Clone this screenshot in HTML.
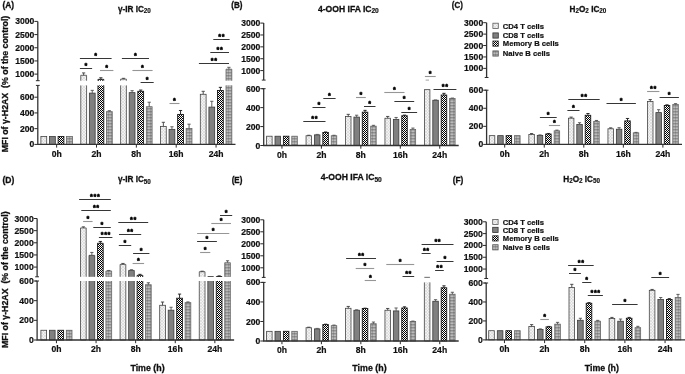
<!DOCTYPE html>
<html><head><meta charset="utf-8"><title>Figure</title>
<style>html,body{margin:0;padding:0;background:#fff}svg{display:block}text{font-family:'Liberation Sans', Arial, sans-serif;font-weight:bold;fill:#111;stroke:#111;stroke-width:0.2px}.c{stroke-width:0.3px}.s{letter-spacing:0.6px;stroke-width:0.5px;fill:#000;stroke:#000}.t{stroke-width:0.18px}</style></head><body>
<svg width="685" height="374" viewBox="0 0 685 374">
<defs>
<pattern id="p1" width="3" height="3" patternUnits="userSpaceOnUse"><rect width="3" height="3" fill="#f2f2f2"/><path d="M0 0L3 3M3 0L0 3" stroke="#cfcfcf" stroke-width="0.5"/></pattern>
<pattern id="p3" width="2" height="2" patternUnits="userSpaceOnUse"><rect width="2" height="2" fill="#fff"/><rect width="1" height="1" fill="#000"/><rect x="1" y="1" width="1" height="1" fill="#000"/></pattern>
<pattern id="p4" width="3" height="3" patternUnits="userSpaceOnUse"><rect width="3" height="3" fill="#fff"/><path d="M0.5 0V3M2 0V3" stroke="#808080" stroke-width="0.55"/><path d="M0 0.4H3M0 1.9H3" stroke="#4a4a4a" stroke-width="0.6"/></pattern>
<filter id="bl" x="0" y="0" width="685" height="374" filterUnits="userSpaceOnUse"><feGaussianBlur stdDeviation="0.42"/></filter>
<filter id="bl2" x="0" y="0" width="685" height="374" filterUnits="userSpaceOnUse"><feGaussianBlur stdDeviation="0.22"/></filter>
</defs>
<rect width="685" height="374" fill="#fff"/>
<g filter="url(#bl2)"><rect x="40.90" y="136.53" width="5.8" height="7.87" fill="url(#p1)" stroke="#444" stroke-width="0.8"/>
<rect x="49.50" y="136.53" width="5.8" height="7.87" fill="#808080" stroke="#3a3a3a" stroke-width="0.8"/>
<rect x="58.10" y="136.53" width="5.8" height="7.87" fill="url(#p3)" stroke="#1a1a1a" stroke-width="0.9"/>
<rect x="66.60" y="136.53" width="5.8" height="7.87" fill="url(#p4)" stroke="#666" stroke-width="0.8"/>
<rect x="80.75" y="85.40" width="5.8" height="59.00" fill="url(#p1)"/>
<path d="M80.75 85.40V144.40H86.55V85.40" fill="none" stroke="#444" stroke-width="0.8"/>
<rect x="80.75" y="75.30" width="5.8" height="5.40" fill="url(#p1)"/>
<path d="M80.75 80.70V75.30H86.55V80.70" fill="none" stroke="#444" stroke-width="0.8"/>
<path d="M83.65 75.30V72.93M82.05 72.93H85.25" stroke="#444" stroke-width="0.95" fill="none"/>
<rect x="89.35" y="93.11" width="5.8" height="51.29" fill="#808080" stroke="#3a3a3a" stroke-width="0.8"/>
<path d="M92.25 93.11V90.36M90.65 90.36H93.85" stroke="#5a5a5a" stroke-width="0.95" fill="none"/>
<rect x="97.95" y="85.40" width="5.8" height="59.00" fill="url(#p3)"/>
<path d="M97.95 85.40V144.40H103.75V85.40" fill="none" stroke="#1a1a1a" stroke-width="0.9"/>
<rect x="97.95" y="79.38" width="5.8" height="1.32" fill="url(#p3)"/>
<path d="M97.95 80.70V79.38H103.75V80.70" fill="none" stroke="#1a1a1a" stroke-width="0.9"/>
<path d="M100.85 79.38V77.80M99.25 77.80H102.45" stroke="#222" stroke-width="0.95" fill="none"/>
<rect x="106.45" y="111.67" width="5.8" height="32.73" fill="url(#p4)" stroke="#666" stroke-width="0.8"/>
<path d="M109.35 111.67V110.73M107.75 110.73H110.95" stroke="#555" stroke-width="0.95" fill="none"/>
<rect x="120.60" y="85.40" width="5.8" height="59.00" fill="url(#p1)"/>
<path d="M120.60 85.40V144.40H126.40V85.40" fill="none" stroke="#444" stroke-width="0.8"/>
<rect x="120.60" y="79.12" width="5.8" height="1.58" fill="url(#p1)"/>
<path d="M120.60 80.70V79.12H126.40V80.70" fill="none" stroke="#444" stroke-width="0.8"/>
<path d="M123.50 79.12V78.33M121.90 78.33H125.10" stroke="#444" stroke-width="0.95" fill="none"/>
<rect x="129.20" y="92.64" width="5.8" height="51.76" fill="#808080" stroke="#3a3a3a" stroke-width="0.8"/>
<path d="M132.10 92.64V90.67M130.50 90.67H133.70" stroke="#5a5a5a" stroke-width="0.95" fill="none"/>
<rect x="137.80" y="91.30" width="5.8" height="53.10" fill="url(#p3)" stroke="#1a1a1a" stroke-width="0.9"/>
<path d="M140.70 91.30V90.04M139.10 90.04H142.30" stroke="#222" stroke-width="0.95" fill="none"/>
<rect x="146.30" y="106.72" width="5.8" height="37.68" fill="url(#p4)" stroke="#666" stroke-width="0.8"/>
<path d="M149.20 106.72V102.23M147.60 102.23H150.80" stroke="#555" stroke-width="0.95" fill="none"/>
<rect x="160.45" y="126.39" width="5.8" height="18.01" fill="url(#p1)" stroke="#444" stroke-width="0.8"/>
<path d="M163.35 126.39V122.29M161.75 122.29H164.95" stroke="#444" stroke-width="0.95" fill="none"/>
<rect x="169.05" y="129.37" width="5.8" height="15.03" fill="#808080" stroke="#3a3a3a" stroke-width="0.8"/>
<path d="M171.95 129.37V126.78M170.35 126.78H173.55" stroke="#5a5a5a" stroke-width="0.95" fill="none"/>
<rect x="177.65" y="114.43" width="5.8" height="29.97" fill="url(#p3)" stroke="#1a1a1a" stroke-width="0.9"/>
<path d="M180.55 114.43V110.49M178.95 110.49H182.15" stroke="#222" stroke-width="0.95" fill="none"/>
<rect x="186.15" y="128.51" width="5.8" height="15.89" fill="url(#p4)" stroke="#666" stroke-width="0.8"/>
<path d="M189.05 128.51V124.18M187.45 124.18H190.65" stroke="#555" stroke-width="0.95" fill="none"/>
<rect x="200.30" y="94.29" width="5.8" height="50.11" fill="url(#p1)" stroke="#444" stroke-width="0.8"/>
<path d="M203.20 94.29V91.30M201.60 91.30H204.80" stroke="#444" stroke-width="0.95" fill="none"/>
<rect x="208.90" y="107.11" width="5.8" height="37.29" fill="#808080" stroke="#3a3a3a" stroke-width="0.8"/>
<path d="M211.80 107.11V101.29M210.20 101.29H213.40" stroke="#5a5a5a" stroke-width="0.95" fill="none"/>
<rect x="217.50" y="90.51" width="5.8" height="53.89" fill="url(#p3)" stroke="#1a1a1a" stroke-width="0.9"/>
<path d="M220.40 90.51V87.37M218.80 87.37H222.00" stroke="#222" stroke-width="0.95" fill="none"/>
<rect x="226.00" y="85.40" width="5.8" height="59.00" fill="url(#p4)"/>
<path d="M226.00 85.40V144.40H231.80V85.40" fill="none" stroke="#666" stroke-width="0.8"/>
<rect x="226.00" y="69.18" width="5.8" height="11.52" fill="url(#p4)"/>
<path d="M226.00 80.70V69.18H231.80V80.70" fill="none" stroke="#666" stroke-width="0.8"/>
<path d="M228.90 69.18V67.34M227.30 67.34H230.50" stroke="#555" stroke-width="0.95" fill="none"/>
<rect x="266.60" y="136.22" width="5.5" height="9.28" fill="url(#p1)" stroke="#444" stroke-width="0.8"/>
<rect x="275.00" y="136.22" width="5.5" height="9.28" fill="#808080" stroke="#3a3a3a" stroke-width="0.8"/>
<rect x="283.40" y="136.22" width="5.5" height="9.28" fill="url(#p3)" stroke="#1a1a1a" stroke-width="0.9"/>
<rect x="291.80" y="136.22" width="5.5" height="9.28" fill="url(#p4)" stroke="#666" stroke-width="0.8"/>
<rect x="306.05" y="135.75" width="5.5" height="9.75" fill="url(#p1)" stroke="#444" stroke-width="0.8"/>
<path d="M308.80 135.75V135.28M307.20 135.28H310.40" stroke="#444" stroke-width="0.95" fill="none"/>
<rect x="314.45" y="134.90" width="5.5" height="10.60" fill="#808080" stroke="#3a3a3a" stroke-width="0.8"/>
<path d="M317.20 134.90V134.42M315.60 134.42H318.80" stroke="#5a5a5a" stroke-width="0.95" fill="none"/>
<rect x="322.85" y="132.44" width="5.5" height="13.06" fill="url(#p3)" stroke="#1a1a1a" stroke-width="0.9"/>
<path d="M325.60 132.44V131.96M324.00 131.96H327.20" stroke="#222" stroke-width="0.95" fill="none"/>
<rect x="331.25" y="135.75" width="5.5" height="9.75" fill="url(#p4)" stroke="#666" stroke-width="0.8"/>
<path d="M334.00 135.75V135.28M332.40 135.28H335.60" stroke="#555" stroke-width="0.95" fill="none"/>
<rect x="345.50" y="116.53" width="5.5" height="28.97" fill="url(#p1)" stroke="#444" stroke-width="0.8"/>
<path d="M348.25 116.53V114.35M346.65 114.35H349.85" stroke="#444" stroke-width="0.95" fill="none"/>
<rect x="353.90" y="117.10" width="5.5" height="28.40" fill="#808080" stroke="#3a3a3a" stroke-width="0.8"/>
<path d="M356.65 117.10V115.21M355.05 115.21H358.25" stroke="#5a5a5a" stroke-width="0.95" fill="none"/>
<rect x="362.30" y="112.18" width="5.5" height="33.32" fill="url(#p3)" stroke="#1a1a1a" stroke-width="0.9"/>
<path d="M365.05 112.18V110.38M363.45 110.38H366.65" stroke="#222" stroke-width="0.95" fill="none"/>
<rect x="370.70" y="126.19" width="5.5" height="19.31" fill="url(#p4)" stroke="#666" stroke-width="0.8"/>
<path d="M373.45 126.19V125.34M371.85 125.34H375.05" stroke="#555" stroke-width="0.95" fill="none"/>
<rect x="384.95" y="118.24" width="5.5" height="27.26" fill="url(#p1)" stroke="#444" stroke-width="0.8"/>
<path d="M387.70 118.24V116.44M386.10 116.44H389.30" stroke="#444" stroke-width="0.95" fill="none"/>
<rect x="393.35" y="119.37" width="5.5" height="26.13" fill="#808080" stroke="#3a3a3a" stroke-width="0.8"/>
<path d="M396.10 119.37V117.48M394.50 117.48H397.70" stroke="#5a5a5a" stroke-width="0.95" fill="none"/>
<rect x="401.75" y="115.77" width="5.5" height="29.73" fill="url(#p3)" stroke="#1a1a1a" stroke-width="0.9"/>
<path d="M404.50 115.77V115.11M402.90 115.11H406.10" stroke="#222" stroke-width="0.95" fill="none"/>
<rect x="410.15" y="129.50" width="5.5" height="16.00" fill="url(#p4)" stroke="#666" stroke-width="0.8"/>
<path d="M412.90 129.50V128.08M411.30 128.08H414.50" stroke="#555" stroke-width="0.95" fill="none"/>
<rect x="424.40" y="89.65" width="5.5" height="55.85" fill="url(#p1)" stroke="#444" stroke-width="0.8"/>
<rect x="432.80" y="100.25" width="5.5" height="45.25" fill="#808080" stroke="#3a3a3a" stroke-width="0.8"/>
<path d="M435.55 100.25V99.97M433.95 99.97H437.15" stroke="#5a5a5a" stroke-width="0.95" fill="none"/>
<rect x="441.20" y="95.04" width="5.5" height="50.46" fill="url(#p3)" stroke="#1a1a1a" stroke-width="0.9"/>
<path d="M443.95 95.04V93.34M442.35 93.34H445.55" stroke="#222" stroke-width="0.95" fill="none"/>
<rect x="449.60" y="98.45" width="5.5" height="47.05" fill="url(#p4)" stroke="#666" stroke-width="0.8"/>
<path d="M452.35 98.45V98.07M450.75 98.07H453.95" stroke="#555" stroke-width="0.95" fill="none"/>
<rect x="489.30" y="135.64" width="5.5" height="8.76" fill="url(#p1)" stroke="#444" stroke-width="0.8"/>
<rect x="497.70" y="135.64" width="5.5" height="8.76" fill="#808080" stroke="#3a3a3a" stroke-width="0.8"/>
<rect x="506.10" y="135.64" width="5.5" height="8.76" fill="url(#p3)" stroke="#1a1a1a" stroke-width="0.9"/>
<rect x="514.60" y="135.64" width="5.5" height="8.76" fill="url(#p4)" stroke="#666" stroke-width="0.8"/>
<rect x="528.85" y="134.46" width="5.5" height="9.94" fill="url(#p1)" stroke="#444" stroke-width="0.8"/>
<path d="M531.60 134.46V133.56M530.00 133.56H533.20" stroke="#444" stroke-width="0.95" fill="none"/>
<rect x="537.25" y="135.37" width="5.5" height="9.03" fill="#808080" stroke="#3a3a3a" stroke-width="0.8"/>
<path d="M540.00 135.37V134.92M538.40 134.92H541.60" stroke="#5a5a5a" stroke-width="0.95" fill="none"/>
<rect x="545.65" y="134.01" width="5.5" height="10.39" fill="url(#p3)" stroke="#1a1a1a" stroke-width="0.9"/>
<path d="M548.40 134.01V133.47M546.80 133.47H550.00" stroke="#222" stroke-width="0.95" fill="none"/>
<rect x="554.15" y="130.85" width="5.5" height="13.55" fill="url(#p4)" stroke="#666" stroke-width="0.8"/>
<path d="M556.90 130.85V130.13M555.30 130.13H558.50" stroke="#555" stroke-width="0.95" fill="none"/>
<rect x="568.40" y="118.20" width="5.5" height="26.20" fill="url(#p1)" stroke="#444" stroke-width="0.8"/>
<path d="M571.15 118.20V117.12M569.55 117.12H572.75" stroke="#444" stroke-width="0.95" fill="none"/>
<rect x="576.80" y="124.53" width="5.5" height="19.87" fill="#808080" stroke="#3a3a3a" stroke-width="0.8"/>
<path d="M579.55 124.53V122.72M577.95 122.72H581.15" stroke="#5a5a5a" stroke-width="0.95" fill="none"/>
<rect x="585.20" y="115.31" width="5.5" height="29.09" fill="url(#p3)" stroke="#1a1a1a" stroke-width="0.9"/>
<path d="M587.95 115.31V113.51M586.35 113.51H589.55" stroke="#222" stroke-width="0.95" fill="none"/>
<rect x="593.70" y="121.37" width="5.5" height="23.03" fill="url(#p4)" stroke="#666" stroke-width="0.8"/>
<path d="M596.45 121.37V120.46M594.85 120.46H598.05" stroke="#555" stroke-width="0.95" fill="none"/>
<rect x="607.95" y="128.77" width="5.5" height="15.63" fill="url(#p1)" stroke="#444" stroke-width="0.8"/>
<path d="M610.70 128.77V127.87M609.10 127.87H612.30" stroke="#444" stroke-width="0.95" fill="none"/>
<rect x="616.35" y="129.22" width="5.5" height="15.18" fill="#808080" stroke="#3a3a3a" stroke-width="0.8"/>
<path d="M619.10 129.22V127.69M617.50 127.69H620.70" stroke="#5a5a5a" stroke-width="0.95" fill="none"/>
<rect x="624.75" y="120.91" width="5.5" height="23.49" fill="url(#p3)" stroke="#1a1a1a" stroke-width="0.9"/>
<path d="M627.50 120.91V118.47M625.90 118.47H629.10" stroke="#222" stroke-width="0.95" fill="none"/>
<rect x="633.25" y="132.84" width="5.5" height="11.56" fill="url(#p4)" stroke="#666" stroke-width="0.8"/>
<path d="M636.00 132.84V132.39M634.40 132.39H637.60" stroke="#555" stroke-width="0.95" fill="none"/>
<rect x="647.50" y="101.40" width="5.5" height="43.00" fill="url(#p1)" stroke="#444" stroke-width="0.8"/>
<path d="M650.25 101.40V99.59M648.65 99.59H651.85" stroke="#444" stroke-width="0.95" fill="none"/>
<rect x="655.90" y="112.60" width="5.5" height="31.80" fill="#808080" stroke="#3a3a3a" stroke-width="0.8"/>
<path d="M658.65 112.60V109.71M657.05 109.71H660.25" stroke="#5a5a5a" stroke-width="0.95" fill="none"/>
<rect x="664.30" y="105.47" width="5.5" height="38.93" fill="url(#p3)" stroke="#1a1a1a" stroke-width="0.9"/>
<path d="M667.05 105.47V104.83M665.45 104.83H668.65" stroke="#222" stroke-width="0.95" fill="none"/>
<rect x="672.80" y="104.56" width="5.5" height="39.84" fill="url(#p4)" stroke="#666" stroke-width="0.8"/>
<path d="M675.55 104.56V103.66M673.95 103.66H677.15" stroke="#555" stroke-width="0.95" fill="none"/>
<rect x="40.90" y="330.26" width="5.7" height="9.74" fill="url(#p1)" stroke="#444" stroke-width="0.8"/>
<rect x="49.40" y="330.26" width="5.7" height="9.74" fill="#808080" stroke="#3a3a3a" stroke-width="0.8"/>
<rect x="57.90" y="330.26" width="5.7" height="9.74" fill="url(#p3)" stroke="#1a1a1a" stroke-width="0.9"/>
<rect x="66.30" y="330.26" width="5.7" height="9.74" fill="url(#p4)" stroke="#666" stroke-width="0.8"/>
<rect x="80.50" y="281.00" width="5.7" height="59.00" fill="url(#p1)"/>
<path d="M80.50 281.00V340.00H86.20V281.00" fill="none" stroke="#444" stroke-width="0.8"/>
<rect x="80.50" y="227.95" width="5.7" height="48.85" fill="url(#p1)"/>
<path d="M80.50 276.80V227.95H86.20V276.80" fill="none" stroke="#444" stroke-width="0.8"/>
<path d="M83.35 227.95V226.86M81.75 226.86H84.95" stroke="#444" stroke-width="0.95" fill="none"/>
<rect x="89.00" y="281.00" width="5.7" height="59.00" fill="#808080"/>
<path d="M89.00 281.00V340.00H94.70V281.00" fill="none" stroke="#3a3a3a" stroke-width="0.8"/>
<rect x="89.00" y="255.35" width="5.7" height="21.45" fill="#808080"/>
<path d="M89.00 276.80V255.35H94.70V276.80" fill="none" stroke="#3a3a3a" stroke-width="0.8"/>
<path d="M91.85 255.35V252.44M90.25 252.44H93.45" stroke="#5a5a5a" stroke-width="0.95" fill="none"/>
<rect x="97.50" y="281.00" width="5.7" height="59.00" fill="url(#p3)"/>
<path d="M97.50 281.00V340.00H103.20V281.00" fill="none" stroke="#1a1a1a" stroke-width="0.9"/>
<rect x="97.50" y="243.28" width="5.7" height="33.52" fill="url(#p3)"/>
<path d="M97.50 276.80V243.28H103.20V276.80" fill="none" stroke="#1a1a1a" stroke-width="0.9"/>
<path d="M100.35 243.28V241.46M98.75 241.46H101.95" stroke="#222" stroke-width="0.95" fill="none"/>
<rect x="105.90" y="281.00" width="5.7" height="59.00" fill="url(#p4)"/>
<path d="M105.90 281.00V340.00H111.60V281.00" fill="none" stroke="#666" stroke-width="0.8"/>
<rect x="105.90" y="270.97" width="5.7" height="5.83" fill="url(#p4)"/>
<path d="M105.90 276.80V270.97H111.60V276.80" fill="none" stroke="#666" stroke-width="0.8"/>
<path d="M108.75 270.97V270.48M107.15 270.48H110.35" stroke="#555" stroke-width="0.95" fill="none"/>
<rect x="120.10" y="281.00" width="5.7" height="59.00" fill="url(#p1)"/>
<path d="M120.10 281.00V340.00H125.80V281.00" fill="none" stroke="#444" stroke-width="0.8"/>
<rect x="120.10" y="264.41" width="5.7" height="12.39" fill="url(#p1)"/>
<path d="M120.10 276.80V264.41H125.80V276.80" fill="none" stroke="#444" stroke-width="0.8"/>
<path d="M122.95 264.41V263.44M121.35 263.44H124.55" stroke="#444" stroke-width="0.95" fill="none"/>
<rect x="128.60" y="281.00" width="5.7" height="59.00" fill="#808080"/>
<path d="M128.60 281.00V340.00H134.30V281.00" fill="none" stroke="#3a3a3a" stroke-width="0.8"/>
<rect x="128.60" y="270.48" width="5.7" height="6.32" fill="#808080"/>
<path d="M128.60 276.80V270.48H134.30V276.80" fill="none" stroke="#3a3a3a" stroke-width="0.8"/>
<path d="M131.45 270.48V269.76M129.85 269.76H133.05" stroke="#5a5a5a" stroke-width="0.95" fill="none"/>
<rect x="137.10" y="281.00" width="5.7" height="59.00" fill="url(#p3)"/>
<path d="M137.10 281.00V340.00H142.80V281.00" fill="none" stroke="#1a1a1a" stroke-width="0.9"/>
<rect x="137.10" y="275.34" width="5.7" height="1.46" fill="url(#p3)"/>
<path d="M137.10 276.80V275.34H142.80V276.80" fill="none" stroke="#1a1a1a" stroke-width="0.9"/>
<path d="M139.95 275.34V274.37M138.35 274.37H141.55" stroke="#222" stroke-width="0.95" fill="none"/>
<rect x="145.50" y="284.74" width="5.7" height="55.26" fill="url(#p4)" stroke="#666" stroke-width="0.8"/>
<path d="M148.35 284.74V282.77M146.75 282.77H149.95" stroke="#555" stroke-width="0.95" fill="none"/>
<rect x="159.70" y="305.29" width="5.7" height="34.71" fill="url(#p1)" stroke="#444" stroke-width="0.8"/>
<path d="M162.55 305.29V302.04M160.95 302.04H164.15" stroke="#444" stroke-width="0.95" fill="none"/>
<rect x="168.20" y="310.20" width="5.7" height="29.80" fill="#808080" stroke="#3a3a3a" stroke-width="0.8"/>
<path d="M171.05 310.20V307.25M169.45 307.25H172.65" stroke="#5a5a5a" stroke-width="0.95" fill="none"/>
<rect x="176.70" y="298.21" width="5.7" height="41.79" fill="url(#p3)" stroke="#1a1a1a" stroke-width="0.9"/>
<path d="M179.55 298.21V294.08M177.95 294.08H181.15" stroke="#222" stroke-width="0.95" fill="none"/>
<rect x="185.10" y="302.63" width="5.7" height="37.37" fill="url(#p4)" stroke="#666" stroke-width="0.8"/>
<path d="M187.95 302.63V301.94M186.35 301.94H189.55" stroke="#555" stroke-width="0.95" fill="none"/>
<rect x="199.30" y="281.00" width="5.7" height="59.00" fill="url(#p1)"/>
<path d="M199.30 281.00V340.00H205.00V281.00" fill="none" stroke="#444" stroke-width="0.8"/>
<rect x="199.30" y="271.70" width="5.7" height="5.10" fill="url(#p1)"/>
<path d="M199.30 276.80V271.70H205.00V276.80" fill="none" stroke="#444" stroke-width="0.8"/>
<path d="M202.15 271.70V271.21M200.55 271.21H203.75" stroke="#444" stroke-width="0.95" fill="none"/>
<rect x="207.80" y="281.00" width="5.7" height="59.00" fill="#808080"/>
<path d="M207.80 281.00V340.00H213.50V281.00" fill="none" stroke="#3a3a3a" stroke-width="0.8"/>
<rect x="207.80" y="276.51" width="5.7" height="0.29" fill="#808080"/>
<path d="M207.80 276.80V276.51H213.50V276.80" fill="none" stroke="#3a3a3a" stroke-width="0.8"/>
<rect x="216.30" y="281.00" width="5.7" height="59.00" fill="url(#p3)"/>
<path d="M216.30 281.00V340.00H222.00V281.00" fill="none" stroke="#1a1a1a" stroke-width="0.9"/>
<rect x="216.30" y="276.51" width="5.7" height="0.29" fill="url(#p3)"/>
<path d="M216.30 276.80V276.51H222.00V276.80" fill="none" stroke="#1a1a1a" stroke-width="0.9"/>
<path d="M219.15 276.51V275.90M217.55 275.90H220.75" stroke="#222" stroke-width="0.95" fill="none"/>
<rect x="224.70" y="281.00" width="5.7" height="59.00" fill="url(#p4)"/>
<path d="M224.70 281.00V340.00H230.40V281.00" fill="none" stroke="#666" stroke-width="0.8"/>
<rect x="224.70" y="262.71" width="5.7" height="14.09" fill="url(#p4)"/>
<path d="M224.70 276.80V262.71H230.40V276.80" fill="none" stroke="#666" stroke-width="0.8"/>
<path d="M227.55 262.71V260.77M225.95 260.77H229.15" stroke="#555" stroke-width="0.95" fill="none"/>
<rect x="266.60" y="331.33" width="5.5" height="9.67" fill="url(#p1)" stroke="#444" stroke-width="0.8"/>
<rect x="275.00" y="331.33" width="5.5" height="9.67" fill="#808080" stroke="#3a3a3a" stroke-width="0.8"/>
<rect x="283.40" y="331.33" width="5.5" height="9.67" fill="url(#p3)" stroke="#1a1a1a" stroke-width="0.9"/>
<rect x="291.80" y="331.33" width="5.5" height="9.67" fill="url(#p4)" stroke="#666" stroke-width="0.8"/>
<rect x="306.05" y="327.72" width="5.5" height="13.28" fill="url(#p1)" stroke="#444" stroke-width="0.8"/>
<path d="M308.80 327.72V327.23M307.20 327.23H310.40" stroke="#444" stroke-width="0.95" fill="none"/>
<rect x="314.45" y="328.89" width="5.5" height="12.11" fill="#808080" stroke="#3a3a3a" stroke-width="0.8"/>
<path d="M317.20 328.89V328.40M315.60 328.40H318.80" stroke="#5a5a5a" stroke-width="0.95" fill="none"/>
<rect x="322.85" y="324.59" width="5.5" height="16.41" fill="url(#p3)" stroke="#1a1a1a" stroke-width="0.9"/>
<path d="M325.60 324.59V324.20M324.00 324.20H327.20" stroke="#222" stroke-width="0.95" fill="none"/>
<rect x="331.25" y="325.67" width="5.5" height="15.33" fill="url(#p4)" stroke="#666" stroke-width="0.8"/>
<path d="M334.00 325.67V325.08M332.40 325.08H335.60" stroke="#555" stroke-width="0.95" fill="none"/>
<rect x="345.50" y="308.28" width="5.5" height="32.72" fill="url(#p1)" stroke="#444" stroke-width="0.8"/>
<path d="M348.25 308.28V306.43M346.65 306.43H349.85" stroke="#444" stroke-width="0.95" fill="none"/>
<rect x="353.90" y="310.24" width="5.5" height="30.76" fill="#808080" stroke="#3a3a3a" stroke-width="0.8"/>
<path d="M356.65 310.24V309.84M355.05 309.84H358.25" stroke="#5a5a5a" stroke-width="0.95" fill="none"/>
<rect x="362.30" y="308.48" width="5.5" height="32.52" fill="url(#p3)" stroke="#1a1a1a" stroke-width="0.9"/>
<path d="M365.05 308.48V308.18M363.45 308.18H366.65" stroke="#222" stroke-width="0.95" fill="none"/>
<rect x="370.70" y="323.71" width="5.5" height="17.29" fill="url(#p4)" stroke="#666" stroke-width="0.8"/>
<path d="M373.45 323.71V322.05M371.85 322.05H375.05" stroke="#555" stroke-width="0.95" fill="none"/>
<rect x="384.95" y="310.24" width="5.5" height="30.76" fill="url(#p1)" stroke="#444" stroke-width="0.8"/>
<path d="M387.70 310.24V308.48M386.10 308.48H389.30" stroke="#444" stroke-width="0.95" fill="none"/>
<rect x="393.35" y="310.92" width="5.5" height="30.08" fill="#808080" stroke="#3a3a3a" stroke-width="0.8"/>
<path d="M396.10 310.92V307.99M394.50 307.99H397.70" stroke="#5a5a5a" stroke-width="0.95" fill="none"/>
<rect x="401.75" y="307.99" width="5.5" height="33.01" fill="url(#p3)" stroke="#1a1a1a" stroke-width="0.9"/>
<path d="M404.50 307.99V306.82M402.90 306.82H406.10" stroke="#222" stroke-width="0.95" fill="none"/>
<rect x="410.15" y="321.47" width="5.5" height="19.53" fill="url(#p4)" stroke="#666" stroke-width="0.8"/>
<path d="M412.90 321.47V321.08M411.30 321.08H414.50" stroke="#555" stroke-width="0.95" fill="none"/>
<rect x="424.40" y="282.40" width="5.5" height="58.60" fill="url(#p1)"/>
<path d="M424.40 282.40V341.00H429.90V282.40" fill="none" stroke="#444" stroke-width="0.8"/>
<rect x="424.40" y="277.33" width="5.5" height="0.07" fill="url(#p1)"/>
<path d="M424.40 277.40V277.33H429.90V277.40" fill="none" stroke="#444" stroke-width="0.8"/>
<rect x="432.80" y="301.25" width="5.5" height="39.75" fill="#808080" stroke="#3a3a3a" stroke-width="0.8"/>
<path d="M435.55 301.25V299.69M433.95 299.69H437.15" stroke="#5a5a5a" stroke-width="0.95" fill="none"/>
<rect x="441.20" y="287.77" width="5.5" height="53.23" fill="url(#p3)" stroke="#1a1a1a" stroke-width="0.9"/>
<path d="M443.95 287.77V285.82M442.35 285.82H445.55" stroke="#222" stroke-width="0.95" fill="none"/>
<rect x="449.60" y="294.22" width="5.5" height="46.78" fill="url(#p4)" stroke="#666" stroke-width="0.8"/>
<path d="M452.35 294.22V292.26M450.75 292.26H453.95" stroke="#555" stroke-width="0.95" fill="none"/>
<rect x="488.70" y="330.70" width="5.6" height="9.20" fill="url(#p1)" stroke="#444" stroke-width="0.8"/>
<rect x="497.30" y="330.70" width="5.6" height="9.20" fill="#808080" stroke="#3a3a3a" stroke-width="0.8"/>
<rect x="505.90" y="330.70" width="5.6" height="9.20" fill="url(#p3)" stroke="#1a1a1a" stroke-width="0.9"/>
<rect x="514.60" y="330.70" width="5.6" height="9.20" fill="url(#p4)" stroke="#666" stroke-width="0.8"/>
<rect x="528.85" y="326.43" width="5.6" height="13.47" fill="url(#p1)" stroke="#444" stroke-width="0.8"/>
<path d="M531.65 326.43V324.63M530.05 324.63H533.25" stroke="#444" stroke-width="0.95" fill="none"/>
<rect x="537.45" y="329.56" width="5.6" height="10.34" fill="#808080" stroke="#3a3a3a" stroke-width="0.8"/>
<path d="M540.25 329.56V328.90M538.65 328.90H541.85" stroke="#5a5a5a" stroke-width="0.95" fill="none"/>
<rect x="546.05" y="326.91" width="5.6" height="12.99" fill="url(#p3)" stroke="#1a1a1a" stroke-width="0.9"/>
<path d="M548.85 326.91V326.43M547.25 326.43H550.45" stroke="#222" stroke-width="0.95" fill="none"/>
<rect x="554.75" y="324.16" width="5.6" height="15.74" fill="url(#p4)" stroke="#666" stroke-width="0.8"/>
<path d="M557.55 324.16V322.36M555.95 322.36H559.15" stroke="#555" stroke-width="0.95" fill="none"/>
<rect x="569.00" y="287.55" width="5.6" height="52.35" fill="url(#p1)" stroke="#444" stroke-width="0.8"/>
<path d="M571.80 287.55V284.33M570.20 284.33H573.40" stroke="#444" stroke-width="0.95" fill="none"/>
<rect x="577.60" y="320.27" width="5.6" height="19.63" fill="#808080" stroke="#3a3a3a" stroke-width="0.8"/>
<path d="M580.40 320.27V318.28M578.80 318.28H582.00" stroke="#5a5a5a" stroke-width="0.95" fill="none"/>
<rect x="586.20" y="303.29" width="5.6" height="36.61" fill="url(#p3)" stroke="#1a1a1a" stroke-width="0.9"/>
<path d="M589.00 303.29V302.63M587.40 302.63H590.60" stroke="#222" stroke-width="0.95" fill="none"/>
<rect x="594.90" y="321.22" width="5.6" height="18.68" fill="url(#p4)" stroke="#666" stroke-width="0.8"/>
<path d="M597.70 321.22V320.36M596.10 320.36H599.30" stroke="#555" stroke-width="0.95" fill="none"/>
<rect x="609.15" y="318.56" width="5.6" height="21.34" fill="url(#p1)" stroke="#444" stroke-width="0.8"/>
<path d="M611.95 318.56V317.42M610.35 317.42H613.55" stroke="#444" stroke-width="0.95" fill="none"/>
<rect x="617.75" y="321.22" width="5.6" height="18.68" fill="#808080" stroke="#3a3a3a" stroke-width="0.8"/>
<path d="M620.55 321.22V319.04M618.95 319.04H622.15" stroke="#5a5a5a" stroke-width="0.95" fill="none"/>
<rect x="626.35" y="318.28" width="5.6" height="21.62" fill="url(#p3)" stroke="#1a1a1a" stroke-width="0.9"/>
<path d="M629.15 318.28V317.42M627.55 317.42H630.75" stroke="#222" stroke-width="0.95" fill="none"/>
<rect x="635.05" y="327.67" width="5.6" height="12.23" fill="url(#p4)" stroke="#666" stroke-width="0.8"/>
<path d="M637.85 327.67V326.34M636.25 326.34H639.45" stroke="#555" stroke-width="0.95" fill="none"/>
<rect x="649.30" y="290.30" width="5.6" height="49.60" fill="url(#p1)" stroke="#444" stroke-width="0.8"/>
<path d="M652.10 290.30V289.45M650.50 289.45H653.70" stroke="#444" stroke-width="0.95" fill="none"/>
<rect x="657.90" y="299.50" width="5.6" height="40.40" fill="#808080" stroke="#3a3a3a" stroke-width="0.8"/>
<path d="M660.70 299.50V297.51M659.10 297.51H662.30" stroke="#5a5a5a" stroke-width="0.95" fill="none"/>
<rect x="666.50" y="299.50" width="5.6" height="40.40" fill="url(#p3)" stroke="#1a1a1a" stroke-width="0.9"/>
<path d="M669.30 299.50V298.65M667.70 298.65H670.90" stroke="#222" stroke-width="0.95" fill="none"/>
<rect x="675.20" y="297.41" width="5.6" height="42.49" fill="url(#p4)" stroke="#666" stroke-width="0.8"/>
<path d="M678.00 297.41V294.38M676.40 294.38H679.60" stroke="#555" stroke-width="0.95" fill="none"/></g>
<g filter="url(#bl)">
<g id="panelA">
<path d="M37.8 21.4V80.7M37.8 85.4V144.4H235.5" stroke="#333" stroke-width="1.3" fill="none"/>
<path d="M35.90 80.7H39.70M35.90 85.4H39.70" stroke="#2a2a2a" stroke-width="1"/>
<path d="M34.40 144.40H37.8" stroke="#2a2a2a" stroke-width="1"/>
<text x="34.40" y="147.45" text-anchor="end" font-size="8.6">0</text>
<path d="M34.40 128.67H37.8" stroke="#2a2a2a" stroke-width="1"/>
<text x="34.40" y="131.72" text-anchor="end" font-size="8.6">200</text>
<path d="M34.40 112.93H37.8" stroke="#2a2a2a" stroke-width="1"/>
<text x="34.40" y="115.98" text-anchor="end" font-size="8.6">400</text>
<path d="M34.40 97.20H37.8" stroke="#2a2a2a" stroke-width="1"/>
<text x="34.40" y="100.25" text-anchor="end" font-size="8.6">600</text>
<path d="M34.40 74.11H37.8" stroke="#2a2a2a" stroke-width="1"/>
<text x="34.40" y="77.16" text-anchor="end" font-size="8.6">1000</text>
<path d="M34.40 60.93H37.8" stroke="#2a2a2a" stroke-width="1"/>
<text x="34.40" y="63.98" text-anchor="end" font-size="8.6">1500</text>
<path d="M34.40 47.76H37.8" stroke="#2a2a2a" stroke-width="1"/>
<text x="34.40" y="50.81" text-anchor="end" font-size="8.6">2000</text>
<path d="M34.40 34.58H37.8" stroke="#2a2a2a" stroke-width="1"/>
<text x="34.40" y="37.63" text-anchor="end" font-size="8.6">2500</text>
<path d="M34.40 21.40H37.8" stroke="#2a2a2a" stroke-width="1"/>
<text x="34.40" y="24.45" text-anchor="end" font-size="8.6">3000</text>
<path d="M56.65 144.4v3.2" stroke="#2a2a2a" stroke-width="1"/>
<text x="56.65" y="156.60" text-anchor="middle" font-size="8.6">0h</text>
<path d="M96.50 144.4v3.2" stroke="#2a2a2a" stroke-width="1"/>
<text x="96.50" y="156.60" text-anchor="middle" font-size="8.6">2h</text>
<path d="M136.35 144.4v3.2" stroke="#2a2a2a" stroke-width="1"/>
<text x="136.35" y="156.60" text-anchor="middle" font-size="8.6">8h</text>
<path d="M176.20 144.4v3.2" stroke="#2a2a2a" stroke-width="1"/>
<text x="176.20" y="156.60" text-anchor="middle" font-size="8.6">16h</text>
<path d="M216.05 144.4v3.2" stroke="#2a2a2a" stroke-width="1"/>
<text x="216.05" y="156.60" text-anchor="middle" font-size="8.6">24h</text>
<path d="M79.9 58.5H111.6" stroke="#2a2a2a" stroke-width="0.95"/>
<text class="s" x="96.00" y="58.15" text-anchor="middle" font-size="7.2" fill="#000" stroke="#000" stroke-width="0.55">*</text>
<path d="M79.9 68.5H92.1" stroke="#2a2a2a" stroke-width="0.95"/>
<text class="s" x="86.25" y="68.15" text-anchor="middle" font-size="7.2" fill="#000" stroke="#000" stroke-width="0.55">*</text>
<path d="M100 70.5H113.4" stroke="#969696" stroke-width="1.1"/>
<text class="s" x="106.95" y="70.15" text-anchor="middle" font-size="7.2" fill="#333" stroke="#333" stroke-width="0.55">*</text>
<path d="M121.9 58.5H149" stroke="#2a2a2a" stroke-width="0.95"/>
<text class="s" x="135.70" y="58.15" text-anchor="middle" font-size="7.2" fill="#000" stroke="#000" stroke-width="0.55">*</text>
<path d="M132.4 70.5H152.6" stroke="#969696" stroke-width="1.1"/>
<text class="s" x="142.75" y="70.15" text-anchor="middle" font-size="7.2" fill="#333" stroke="#333" stroke-width="0.55">*</text>
<path d="M140.6 82.5H153.7" stroke="#2a2a2a" stroke-width="0.95"/>
<text class="s" x="147.40" y="82.15" text-anchor="middle" font-size="7.2" fill="#000" stroke="#000" stroke-width="0.55">*</text>
<path d="M169.5 103.5H179.5" stroke="#969696" stroke-width="1.1"/>
<text class="s" x="174.75" y="103.15" text-anchor="middle" font-size="7.2" fill="#333" stroke="#333" stroke-width="0.55">*</text>
<path d="M213.3 39.5H229.6" stroke="#2a2a2a" stroke-width="0.95"/>
<text class="s" x="221.70" y="39.15" text-anchor="middle" font-size="7.2" fill="#000" stroke="#000" stroke-width="0.55">**</text>
<path d="M210.3 52.5H229" stroke="#2a2a2a" stroke-width="0.95"/>
<text class="s" x="219.90" y="52.15" text-anchor="middle" font-size="7.2" fill="#000" stroke="#000" stroke-width="0.55">**</text>
<path d="M198.9 63.5H229" stroke="#2a2a2a" stroke-width="0.95"/>
<text class="s" x="214.20" y="63.15" text-anchor="middle" font-size="7.2" fill="#000" stroke="#000" stroke-width="0.55">**</text>
</g>
<g id="panelB">
<path d="M263.7 23.1V80.1M263.7 88.7V145.5H458.7" stroke="#333" stroke-width="1.3" fill="none"/>
<path d="M261.80 80.1H265.60M261.80 88.7H265.60" stroke="#2a2a2a" stroke-width="1"/>
<path d="M260.30 145.50H263.7" stroke="#2a2a2a" stroke-width="1"/>
<text x="260.30" y="148.55" text-anchor="end" font-size="8.6">0</text>
<path d="M260.30 126.57H263.7" stroke="#2a2a2a" stroke-width="1"/>
<text x="260.30" y="129.62" text-anchor="end" font-size="8.6">200</text>
<path d="M260.30 107.63H263.7" stroke="#2a2a2a" stroke-width="1"/>
<text x="260.30" y="110.68" text-anchor="end" font-size="8.6">400</text>
<path d="M260.30 88.70H263.7" stroke="#2a2a2a" stroke-width="1"/>
<text x="260.30" y="91.75" text-anchor="end" font-size="8.6">600</text>
<path d="M260.30 70.60H263.7" stroke="#2a2a2a" stroke-width="1"/>
<text x="260.30" y="73.65" text-anchor="end" font-size="8.6">1000</text>
<path d="M260.30 58.72H263.7" stroke="#2a2a2a" stroke-width="1"/>
<text x="260.30" y="61.77" text-anchor="end" font-size="8.6">1500</text>
<path d="M260.30 46.85H263.7" stroke="#2a2a2a" stroke-width="1"/>
<text x="260.30" y="49.90" text-anchor="end" font-size="8.6">2000</text>
<path d="M260.30 34.98H263.7" stroke="#2a2a2a" stroke-width="1"/>
<text x="260.30" y="38.02" text-anchor="end" font-size="8.6">2500</text>
<path d="M260.30 23.10H263.7" stroke="#2a2a2a" stroke-width="1"/>
<text x="260.30" y="26.15" text-anchor="end" font-size="8.6">3000</text>
<path d="M281.95 145.5v3.2" stroke="#2a2a2a" stroke-width="1"/>
<text x="281.95" y="157.70" text-anchor="middle" font-size="8.6">0h</text>
<path d="M321.40 145.5v3.2" stroke="#2a2a2a" stroke-width="1"/>
<text x="321.40" y="157.70" text-anchor="middle" font-size="8.6">2h</text>
<path d="M360.85 145.5v3.2" stroke="#2a2a2a" stroke-width="1"/>
<text x="360.85" y="157.70" text-anchor="middle" font-size="8.6">8h</text>
<path d="M400.30 145.5v3.2" stroke="#2a2a2a" stroke-width="1"/>
<text x="400.30" y="157.70" text-anchor="middle" font-size="8.6">16h</text>
<path d="M439.75 145.5v3.2" stroke="#2a2a2a" stroke-width="1"/>
<text x="439.75" y="157.70" text-anchor="middle" font-size="8.6">24h</text>
<path d="M303.3 121.5H325.5" stroke="#2a2a2a" stroke-width="0.95"/>
<text class="s" x="314.65" y="121.15" text-anchor="middle" font-size="7.2" fill="#000" stroke="#000" stroke-width="0.55">**</text>
<path d="M312.5 107.5H325.5" stroke="#2a2a2a" stroke-width="0.95"/>
<text class="s" x="319.25" y="107.15" text-anchor="middle" font-size="7.2" fill="#000" stroke="#000" stroke-width="0.55">*</text>
<path d="M323.3 98.5H335.6" stroke="#2a2a2a" stroke-width="0.95"/>
<text class="s" x="329.70" y="98.15" text-anchor="middle" font-size="7.2" fill="#000" stroke="#000" stroke-width="0.55">*</text>
<path d="M356 97.5H365.8" stroke="#969696" stroke-width="1.1"/>
<text class="s" x="361.15" y="97.15" text-anchor="middle" font-size="7.2" fill="#333" stroke="#333" stroke-width="0.55">*</text>
<path d="M364 106.5H375.5" stroke="#2a2a2a" stroke-width="0.95"/>
<text class="s" x="370.00" y="106.15" text-anchor="middle" font-size="7.2" fill="#000" stroke="#000" stroke-width="0.55">*</text>
<path d="M384.3 92.5H404.5" stroke="#969696" stroke-width="1.1"/>
<text class="s" x="394.65" y="92.15" text-anchor="middle" font-size="7.2" fill="#333" stroke="#333" stroke-width="0.55">*</text>
<path d="M394.4 101.5H414.2" stroke="#2a2a2a" stroke-width="0.95"/>
<text class="s" x="404.55" y="101.15" text-anchor="middle" font-size="7.2" fill="#000" stroke="#000" stroke-width="0.55">*</text>
<path d="M401.3 112.5H417.1" stroke="#2a2a2a" stroke-width="0.95"/>
<text class="s" x="409.45" y="112.15" text-anchor="middle" font-size="7.2" fill="#000" stroke="#000" stroke-width="0.55">*</text>
<path d="M424.9 76.5H435.7" stroke="#969696" stroke-width="1.1"/>
<text class="s" x="430.55" y="76.15" text-anchor="middle" font-size="7.2" fill="#333" stroke="#333" stroke-width="0.55">*</text>
<path d="M433.5 89.5H456.4" stroke="#2a2a2a" stroke-width="0.95"/>
<text class="s" x="445.20" y="89.15" text-anchor="middle" font-size="7.2" fill="#000" stroke="#000" stroke-width="0.55">**</text>
</g>
<g id="panelC">
<path d="M486.6 22.7V77.5M486.6 90.2V144.4H682" stroke="#333" stroke-width="1.3" fill="none"/>
<path d="M484.70 77.5H488.50M484.70 90.2H488.50" stroke="#2a2a2a" stroke-width="1"/>
<path d="M483.20 144.40H486.6" stroke="#2a2a2a" stroke-width="1"/>
<text x="483.20" y="147.45" text-anchor="end" font-size="8.6">0</text>
<path d="M483.20 126.33H486.6" stroke="#2a2a2a" stroke-width="1"/>
<text x="483.20" y="129.38" text-anchor="end" font-size="8.6">200</text>
<path d="M483.20 108.27H486.6" stroke="#2a2a2a" stroke-width="1"/>
<text x="483.20" y="111.32" text-anchor="end" font-size="8.6">400</text>
<path d="M483.20 90.20H486.6" stroke="#2a2a2a" stroke-width="1"/>
<text x="483.20" y="93.25" text-anchor="end" font-size="8.6">600</text>
<path d="M483.20 68.37H486.6" stroke="#2a2a2a" stroke-width="1"/>
<text x="483.20" y="71.42" text-anchor="end" font-size="8.6">1000</text>
<path d="M483.20 56.95H486.6" stroke="#2a2a2a" stroke-width="1"/>
<text x="483.20" y="60.00" text-anchor="end" font-size="8.6">1500</text>
<path d="M483.20 45.53H486.6" stroke="#2a2a2a" stroke-width="1"/>
<text x="483.20" y="48.58" text-anchor="end" font-size="8.6">2000</text>
<path d="M483.20 34.12H486.6" stroke="#2a2a2a" stroke-width="1"/>
<text x="483.20" y="37.17" text-anchor="end" font-size="8.6">2500</text>
<path d="M483.20 22.70H486.6" stroke="#2a2a2a" stroke-width="1"/>
<text x="483.20" y="25.75" text-anchor="end" font-size="8.6">3000</text>
<path d="M504.70 144.4v3.2" stroke="#2a2a2a" stroke-width="1"/>
<text x="504.70" y="156.60" text-anchor="middle" font-size="8.6">0h</text>
<path d="M544.25 144.4v3.2" stroke="#2a2a2a" stroke-width="1"/>
<text x="544.25" y="156.60" text-anchor="middle" font-size="8.6">2h</text>
<path d="M583.80 144.4v3.2" stroke="#2a2a2a" stroke-width="1"/>
<text x="583.80" y="156.60" text-anchor="middle" font-size="8.6">8h</text>
<path d="M623.35 144.4v3.2" stroke="#2a2a2a" stroke-width="1"/>
<text x="623.35" y="156.60" text-anchor="middle" font-size="8.6">16h</text>
<path d="M662.90 144.4v3.2" stroke="#2a2a2a" stroke-width="1"/>
<text x="662.90" y="156.60" text-anchor="middle" font-size="8.6">24h</text>
<path d="M539.9 117.5H556.7" stroke="#2a2a2a" stroke-width="0.95"/>
<text class="s" x="548.55" y="117.15" text-anchor="middle" font-size="7.2" fill="#000" stroke="#000" stroke-width="0.55">*</text>
<path d="M548.9 125.5H560.1" stroke="#969696" stroke-width="1.1"/>
<text class="s" x="554.75" y="125.15" text-anchor="middle" font-size="7.2" fill="#333" stroke="#333" stroke-width="0.55">*</text>
<path d="M568.3 99.5H599.7" stroke="#2a2a2a" stroke-width="0.95"/>
<text class="s" x="584.25" y="99.15" text-anchor="middle" font-size="7.2" fill="#000" stroke="#000" stroke-width="0.55">**</text>
<path d="M567.4 110.5H579.5" stroke="#2a2a2a" stroke-width="0.95"/>
<text class="s" x="573.70" y="110.15" text-anchor="middle" font-size="7.2" fill="#000" stroke="#000" stroke-width="0.55">*</text>
<path d="M606.5 103.5H635.9" stroke="#2a2a2a" stroke-width="0.95"/>
<text class="s" x="621.45" y="103.15" text-anchor="middle" font-size="7.2" fill="#000" stroke="#000" stroke-width="0.55">*</text>
<path d="M647.1 91.5H659.4" stroke="#969696" stroke-width="1.1"/>
<text class="s" x="653.50" y="91.15" text-anchor="middle" font-size="7.2" fill="#333" stroke="#333" stroke-width="0.55">**</text>
<path d="M659.6 97.5H678.9" stroke="#2a2a2a" stroke-width="0.95"/>
<text class="s" x="669.50" y="97.15" text-anchor="middle" font-size="7.2" fill="#000" stroke="#000" stroke-width="0.55">*</text>
</g>
<g id="panelD">
<path d="M37.1 218.5V276.8M37.1 281V340H234.1" stroke="#333" stroke-width="1.3" fill="none"/>
<path d="M35.20 276.8H39.00M35.20 281H39.00" stroke="#2a2a2a" stroke-width="1"/>
<path d="M33.70 340.00H37.1" stroke="#2a2a2a" stroke-width="1"/>
<text x="33.70" y="343.05" text-anchor="end" font-size="8.6">0</text>
<path d="M33.70 320.33H37.1" stroke="#2a2a2a" stroke-width="1"/>
<text x="33.70" y="323.38" text-anchor="end" font-size="8.6">200</text>
<path d="M33.70 300.67H37.1" stroke="#2a2a2a" stroke-width="1"/>
<text x="33.70" y="303.72" text-anchor="end" font-size="8.6">400</text>
<path d="M33.70 281.00H37.1" stroke="#2a2a2a" stroke-width="1"/>
<text x="33.70" y="284.05" text-anchor="end" font-size="8.6">600</text>
<path d="M33.70 267.08H37.1" stroke="#2a2a2a" stroke-width="1"/>
<text x="33.70" y="270.13" text-anchor="end" font-size="8.6">1000</text>
<path d="M33.70 254.94H37.1" stroke="#2a2a2a" stroke-width="1"/>
<text x="33.70" y="257.99" text-anchor="end" font-size="8.6">1500</text>
<path d="M33.70 242.79H37.1" stroke="#2a2a2a" stroke-width="1"/>
<text x="33.70" y="245.84" text-anchor="end" font-size="8.6">2000</text>
<path d="M33.70 230.65H37.1" stroke="#2a2a2a" stroke-width="1"/>
<text x="33.70" y="233.70" text-anchor="end" font-size="8.6">2500</text>
<path d="M33.70 218.50H37.1" stroke="#2a2a2a" stroke-width="1"/>
<text x="33.70" y="221.55" text-anchor="end" font-size="8.6">3000</text>
<path d="M56.45 340v3.2" stroke="#2a2a2a" stroke-width="1"/>
<text x="56.45" y="352.20" text-anchor="middle" font-size="8.6">0h</text>
<path d="M96.05 340v3.2" stroke="#2a2a2a" stroke-width="1"/>
<text x="96.05" y="352.20" text-anchor="middle" font-size="8.6">2h</text>
<path d="M135.65 340v3.2" stroke="#2a2a2a" stroke-width="1"/>
<text x="135.65" y="352.20" text-anchor="middle" font-size="8.6">8h</text>
<path d="M175.25 340v3.2" stroke="#2a2a2a" stroke-width="1"/>
<text x="175.25" y="352.20" text-anchor="middle" font-size="8.6">16h</text>
<path d="M214.85 340v3.2" stroke="#2a2a2a" stroke-width="1"/>
<text x="214.85" y="352.20" text-anchor="middle" font-size="8.6">24h</text>
<path d="M79.1 199.5H110.8" stroke="#2a2a2a" stroke-width="0.95"/>
<text class="s" x="95.20" y="199.15" text-anchor="middle" font-size="7.2" fill="#000" stroke="#000" stroke-width="0.55">***</text>
<path d="M81.3 210.5H110.8" stroke="#2a2a2a" stroke-width="0.95"/>
<text class="s" x="96.30" y="210.15" text-anchor="middle" font-size="7.2" fill="#000" stroke="#000" stroke-width="0.55">**</text>
<path d="M83.1 221.5H92.6" stroke="#969696" stroke-width="1.1"/>
<text class="s" x="88.10" y="221.15" text-anchor="middle" font-size="7.2" fill="#333" stroke="#333" stroke-width="0.55">*</text>
<path d="M93.3 227.5H110.8" stroke="#2a2a2a" stroke-width="0.95"/>
<text class="s" x="102.30" y="227.15" text-anchor="middle" font-size="7.2" fill="#000" stroke="#000" stroke-width="0.55">*</text>
<path d="M98.9 237.5H112.4" stroke="#2a2a2a" stroke-width="0.95"/>
<text class="s" x="105.90" y="237.15" text-anchor="middle" font-size="7.2" fill="#000" stroke="#000" stroke-width="0.55">***</text>
<path d="M118.3 222.5H148.2" stroke="#2a2a2a" stroke-width="0.95"/>
<text class="s" x="133.50" y="222.15" text-anchor="middle" font-size="7.2" fill="#000" stroke="#000" stroke-width="0.55">**</text>
<path d="M119 234.5H141.2" stroke="#2a2a2a" stroke-width="0.95"/>
<text class="s" x="130.35" y="234.15" text-anchor="middle" font-size="7.2" fill="#000" stroke="#000" stroke-width="0.55">**</text>
<path d="M118.8 245.5H131.2" stroke="#2a2a2a" stroke-width="0.95"/>
<text class="s" x="125.25" y="245.15" text-anchor="middle" font-size="7.2" fill="#000" stroke="#000" stroke-width="0.55">*</text>
<path d="M133.1 253.5H149.4" stroke="#2a2a2a" stroke-width="0.95"/>
<text class="s" x="141.50" y="253.15" text-anchor="middle" font-size="7.2" fill="#000" stroke="#000" stroke-width="0.55">*</text>
<path d="M132.6 263.5H144.1" stroke="#969696" stroke-width="1.1"/>
<text class="s" x="138.60" y="263.15" text-anchor="middle" font-size="7.2" fill="#333" stroke="#333" stroke-width="0.55">*</text>
<path d="M220 215.5H232.2" stroke="#2a2a2a" stroke-width="0.95"/>
<text class="s" x="226.35" y="215.15" text-anchor="middle" font-size="7.2" fill="#000" stroke="#000" stroke-width="0.55">*</text>
<path d="M211.3 223.5H231" stroke="#969696" stroke-width="1.1"/>
<text class="s" x="221.40" y="223.15" text-anchor="middle" font-size="7.2" fill="#333" stroke="#333" stroke-width="0.55">*</text>
<path d="M197.1 233.5H229.3" stroke="#969696" stroke-width="1.1"/>
<text class="s" x="213.45" y="233.15" text-anchor="middle" font-size="7.2" fill="#333" stroke="#333" stroke-width="0.55">*</text>
<path d="M197.1 241.5H216.9" stroke="#2a2a2a" stroke-width="0.95"/>
<text class="s" x="207.25" y="241.15" text-anchor="middle" font-size="7.2" fill="#000" stroke="#000" stroke-width="0.55">*</text>
<path d="M200.1 252.5H210.3" stroke="#969696" stroke-width="1.1"/>
<text class="s" x="205.45" y="252.15" text-anchor="middle" font-size="7.2" fill="#333" stroke="#333" stroke-width="0.55">*</text>
</g>
<g id="panelE">
<path d="M263.7 219.8V277.4M263.7 282.4V341H458.7" stroke="#333" stroke-width="1.3" fill="none"/>
<path d="M261.80 277.4H265.60M261.80 282.4H265.60" stroke="#2a2a2a" stroke-width="1"/>
<path d="M260.30 341.00H263.7" stroke="#2a2a2a" stroke-width="1"/>
<text x="260.30" y="344.05" text-anchor="end" font-size="8.6">0</text>
<path d="M260.30 321.47H263.7" stroke="#2a2a2a" stroke-width="1"/>
<text x="260.30" y="324.52" text-anchor="end" font-size="8.6">200</text>
<path d="M260.30 301.93H263.7" stroke="#2a2a2a" stroke-width="1"/>
<text x="260.30" y="304.98" text-anchor="end" font-size="8.6">400</text>
<path d="M260.30 282.40H263.7" stroke="#2a2a2a" stroke-width="1"/>
<text x="260.30" y="285.45" text-anchor="end" font-size="8.6">600</text>
<path d="M260.30 267.80H263.7" stroke="#2a2a2a" stroke-width="1"/>
<text x="260.30" y="270.85" text-anchor="end" font-size="8.6">1000</text>
<path d="M260.30 255.80H263.7" stroke="#2a2a2a" stroke-width="1"/>
<text x="260.30" y="258.85" text-anchor="end" font-size="8.6">1500</text>
<path d="M260.30 243.80H263.7" stroke="#2a2a2a" stroke-width="1"/>
<text x="260.30" y="246.85" text-anchor="end" font-size="8.6">2000</text>
<path d="M260.30 231.80H263.7" stroke="#2a2a2a" stroke-width="1"/>
<text x="260.30" y="234.85" text-anchor="end" font-size="8.6">2500</text>
<path d="M260.30 219.80H263.7" stroke="#2a2a2a" stroke-width="1"/>
<text x="260.30" y="222.85" text-anchor="end" font-size="8.6">3000</text>
<path d="M281.95 341v3.2" stroke="#2a2a2a" stroke-width="1"/>
<text x="281.95" y="353.20" text-anchor="middle" font-size="8.6">0h</text>
<path d="M321.40 341v3.2" stroke="#2a2a2a" stroke-width="1"/>
<text x="321.40" y="353.20" text-anchor="middle" font-size="8.6">2h</text>
<path d="M360.85 341v3.2" stroke="#2a2a2a" stroke-width="1"/>
<text x="360.85" y="353.20" text-anchor="middle" font-size="8.6">8h</text>
<path d="M400.30 341v3.2" stroke="#2a2a2a" stroke-width="1"/>
<text x="400.30" y="353.20" text-anchor="middle" font-size="8.6">16h</text>
<path d="M439.75 341v3.2" stroke="#2a2a2a" stroke-width="1"/>
<text x="439.75" y="353.20" text-anchor="middle" font-size="8.6">24h</text>
<path d="M346.1 258.5H376" stroke="#2a2a2a" stroke-width="0.95"/>
<text class="s" x="361.30" y="258.15" text-anchor="middle" font-size="7.2" fill="#000" stroke="#000" stroke-width="0.55">**</text>
<path d="M355.7 268.5H374.2" stroke="#969696" stroke-width="1.1"/>
<text class="s" x="365.20" y="268.15" text-anchor="middle" font-size="7.2" fill="#333" stroke="#333" stroke-width="0.55">*</text>
<path d="M364.7 280.5H376" stroke="#969696" stroke-width="1.1"/>
<text class="s" x="370.60" y="280.15" text-anchor="middle" font-size="7.2" fill="#333" stroke="#333" stroke-width="0.55">*</text>
<path d="M386.3 264.5H414.2" stroke="#969696" stroke-width="1.1"/>
<text class="s" x="400.50" y="264.15" text-anchor="middle" font-size="7.2" fill="#333" stroke="#333" stroke-width="0.55">*</text>
<path d="M402.5 276.5H414.2" stroke="#2a2a2a" stroke-width="0.95"/>
<text class="s" x="408.60" y="276.15" text-anchor="middle" font-size="7.2" fill="#000" stroke="#000" stroke-width="0.55">**</text>
<path d="M421.6 244.5H453.5" stroke="#2a2a2a" stroke-width="0.95"/>
<text class="s" x="437.80" y="244.15" text-anchor="middle" font-size="7.2" fill="#000" stroke="#000" stroke-width="0.55">**</text>
<path d="M421.6 253.5H430.6" stroke="#2a2a2a" stroke-width="0.95"/>
<text class="s" x="426.35" y="253.15" text-anchor="middle" font-size="7.2" fill="#000" stroke="#000" stroke-width="0.55">**</text>
<path d="M436.6 261.5H453.5" stroke="#2a2a2a" stroke-width="0.95"/>
<text class="s" x="445.30" y="261.15" text-anchor="middle" font-size="7.2" fill="#000" stroke="#000" stroke-width="0.55">*</text>
<path d="M435.1 270.5H443.8" stroke="#2a2a2a" stroke-width="0.95"/>
<text class="s" x="439.70" y="270.15" text-anchor="middle" font-size="7.2" fill="#000" stroke="#000" stroke-width="0.55">**</text>
</g>
<g id="panelF">
<path d="M486.2 221.8V278.5M486.2 283V339.9H685" stroke="#333" stroke-width="1.3" fill="none"/>
<path d="M484.30 278.5H488.10M484.30 283H488.10" stroke="#2a2a2a" stroke-width="1"/>
<path d="M482.80 339.90H486.2" stroke="#2a2a2a" stroke-width="1"/>
<text x="482.80" y="342.95" text-anchor="end" font-size="8.6">0</text>
<path d="M482.80 320.93H486.2" stroke="#2a2a2a" stroke-width="1"/>
<text x="482.80" y="323.98" text-anchor="end" font-size="8.6">200</text>
<path d="M482.80 301.97H486.2" stroke="#2a2a2a" stroke-width="1"/>
<text x="482.80" y="305.02" text-anchor="end" font-size="8.6">400</text>
<path d="M482.80 283.00H486.2" stroke="#2a2a2a" stroke-width="1"/>
<text x="482.80" y="286.05" text-anchor="end" font-size="8.6">600</text>
<path d="M482.80 269.05H486.2" stroke="#2a2a2a" stroke-width="1"/>
<text x="482.80" y="272.10" text-anchor="end" font-size="8.6">1000</text>
<path d="M482.80 257.24H486.2" stroke="#2a2a2a" stroke-width="1"/>
<text x="482.80" y="260.29" text-anchor="end" font-size="8.6">1500</text>
<path d="M482.80 245.43H486.2" stroke="#2a2a2a" stroke-width="1"/>
<text x="482.80" y="248.48" text-anchor="end" font-size="8.6">2000</text>
<path d="M482.80 233.61H486.2" stroke="#2a2a2a" stroke-width="1"/>
<text x="482.80" y="236.66" text-anchor="end" font-size="8.6">2500</text>
<path d="M482.80 221.80H486.2" stroke="#2a2a2a" stroke-width="1"/>
<text x="482.80" y="224.85" text-anchor="end" font-size="8.6">3000</text>
<path d="M504.45 339.9v3.2" stroke="#2a2a2a" stroke-width="1"/>
<text x="504.45" y="352.10" text-anchor="middle" font-size="8.6">0h</text>
<path d="M544.60 339.9v3.2" stroke="#2a2a2a" stroke-width="1"/>
<text x="544.60" y="352.10" text-anchor="middle" font-size="8.6">2h</text>
<path d="M584.75 339.9v3.2" stroke="#2a2a2a" stroke-width="1"/>
<text x="584.75" y="352.10" text-anchor="middle" font-size="8.6">8h</text>
<path d="M624.90 339.9v3.2" stroke="#2a2a2a" stroke-width="1"/>
<text x="624.90" y="352.10" text-anchor="middle" font-size="8.6">16h</text>
<path d="M665.05 339.9v3.2" stroke="#2a2a2a" stroke-width="1"/>
<text x="665.05" y="352.10" text-anchor="middle" font-size="8.6">24h</text>
<path d="M540.3 319.5H548.9" stroke="#969696" stroke-width="1.1"/>
<text class="s" x="544.85" y="319.15" text-anchor="middle" font-size="7.2" fill="#333" stroke="#333" stroke-width="0.55">*</text>
<path d="M568.1 265.5H593.7" stroke="#2a2a2a" stroke-width="0.95"/>
<text class="s" x="581.15" y="265.15" text-anchor="middle" font-size="7.2" fill="#000" stroke="#000" stroke-width="0.55">**</text>
<path d="M569 273.5H580.9" stroke="#2a2a2a" stroke-width="0.95"/>
<text class="s" x="575.20" y="273.15" text-anchor="middle" font-size="7.2" fill="#000" stroke="#000" stroke-width="0.55">*</text>
<path d="M582.2 282.5H591.4" stroke="#2a2a2a" stroke-width="0.95"/>
<text class="s" x="587.05" y="282.15" text-anchor="middle" font-size="7.2" fill="#000" stroke="#000" stroke-width="0.55">*</text>
<path d="M587.8 295.5H602.9" stroke="#2a2a2a" stroke-width="0.95"/>
<text class="s" x="595.60" y="295.15" text-anchor="middle" font-size="7.2" fill="#000" stroke="#000" stroke-width="0.55">***</text>
<path d="M612.1 304.5H637.6" stroke="#2a2a2a" stroke-width="0.95"/>
<text class="s" x="625.10" y="304.15" text-anchor="middle" font-size="7.2" fill="#000" stroke="#000" stroke-width="0.55">*</text>
<path d="M651.3 277.5H669.1" stroke="#2a2a2a" stroke-width="0.95"/>
<text class="s" x="660.45" y="277.15" text-anchor="middle" font-size="7.2" fill="#000" stroke="#000" stroke-width="0.55">*</text>
</g>
<path d="M425.6 80.1H429" stroke="#999" stroke-width="0.9"/>
<text class="c" x="2.5" y="8.40" font-size="8.2" textLength="11.6" lengthAdjust="spacingAndGlyphs">(A)</text>
<text class="c" x="231.3" y="8.20" font-size="8.2" textLength="11.2" lengthAdjust="spacingAndGlyphs">(B)</text>
<text class="c" x="451.8" y="8.20" font-size="8.2" textLength="11" lengthAdjust="spacingAndGlyphs">(C)</text>
<text class="c" x="2.5" y="183.40" font-size="8.2" textLength="11.8" lengthAdjust="spacingAndGlyphs">(D)</text>
<text class="c" x="231.7" y="182.70" font-size="8.2" textLength="10.7" lengthAdjust="spacingAndGlyphs">(E)</text>
<text class="c" x="452.7" y="183.00" font-size="8.2" textLength="10.7" lengthAdjust="spacingAndGlyphs">(F)</text>
<text class="c" x="117.9" y="11.9" font-size="8.3" textLength="33" lengthAdjust="spacingAndGlyphs"><tspan>γ-IR IC</tspan><tspan class="t" font-size="6.4" dy="1.5">20</tspan><tspan dy="-1.5" font-size="1">&#8203;</tspan></text>
<text class="c" x="318" y="11.9" font-size="8.3" textLength="60.8" lengthAdjust="spacingAndGlyphs"><tspan>4-OOH IFA IC</tspan><tspan class="t" font-size="6.4" dy="1.5">20</tspan><tspan dy="-1.5" font-size="1">&#8203;</tspan></text>
<text class="c" x="569.6" y="11.9" font-size="8.3" textLength="36.7" lengthAdjust="spacingAndGlyphs"><tspan>H</tspan><tspan class="t" font-size="6.4" dy="1.5">2</tspan><tspan dy="-1.5" font-size="1">&#8203;</tspan><tspan>O</tspan><tspan class="t" font-size="6.4" dy="1.5">2</tspan><tspan dy="-1.5" font-size="1">&#8203;</tspan><tspan> IC</tspan><tspan class="t" font-size="6.4" dy="1.5">20</tspan><tspan dy="-1.5" font-size="1">&#8203;</tspan></text>
<text class="c" x="117.9" y="182.4" font-size="8.3" textLength="33" lengthAdjust="spacingAndGlyphs"><tspan>γ-IR IC</tspan><tspan class="t" font-size="6.4" dy="1.5">50</tspan><tspan dy="-1.5" font-size="1">&#8203;</tspan></text>
<text class="c" x="320.7" y="180.4" font-size="8.3" textLength="61.1" lengthAdjust="spacingAndGlyphs"><tspan>4-OOH IFA IC</tspan><tspan class="t" font-size="6.4" dy="1.5">50</tspan><tspan dy="-1.5" font-size="1">&#8203;</tspan></text>
<text class="c" x="563.2" y="181.8" font-size="8.3" textLength="36.9" lengthAdjust="spacingAndGlyphs"><tspan>H</tspan><tspan class="t" font-size="6.4" dy="1.5">2</tspan><tspan dy="-1.5" font-size="1">&#8203;</tspan><tspan>O</tspan><tspan class="t" font-size="6.4" dy="1.5">2</tspan><tspan dy="-1.5" font-size="1">&#8203;</tspan><tspan> IC</tspan><tspan class="t" font-size="6.4" dy="1.5">50</tspan><tspan dy="-1.5" font-size="1">&#8203;</tspan></text>
<text class="c" transform="translate(8.3 152.3) rotate(-90)" font-size="8.7" textLength="136.6" lengthAdjust="spacingAndGlyphs" xml:space="preserve">MFI of γ-H2AX  (% of the control)</text>
<text class="c" transform="translate(8.3 348.0) rotate(-90)" font-size="8.7" textLength="136.6" lengthAdjust="spacingAndGlyphs" xml:space="preserve">MFI of γ-H2AX  (% of the control)</text>
<text class="c" x="130.4" y="371.2" font-size="9.4" textLength="34.3" lengthAdjust="spacingAndGlyphs">Time (h)</text>
<text class="c" x="352.3" y="371.2" font-size="9.4" textLength="34.3" lengthAdjust="spacingAndGlyphs">Time (h)</text>
<text class="c" x="584.7" y="371.2" font-size="9.4" textLength="34.3" lengthAdjust="spacingAndGlyphs">Time (h)</text>
<rect x="492.9" y="23.20" width="5.4" height="5.2" fill="url(#p1)" stroke="#5a5a5a" stroke-width="0.8"/>
<text x="502.8" y="28.55" font-size="7.65">CD4 T cells</text>
<rect x="492.9" y="32.90" width="5.4" height="5.2" fill="#808080" stroke="#333" stroke-width="0.8"/>
<text x="502.8" y="38.25" font-size="7.65">CD8 T cells</text>
<rect x="492.9" y="41.00" width="5.4" height="5.2" fill="url(#p3)" stroke="#222" stroke-width="0.8"/>
<text x="502.8" y="46.35" font-size="7.65">Memory B cells</text>
<rect x="492.9" y="50.90" width="5.4" height="5.2" fill="url(#p4)" stroke="#5a5a5a" stroke-width="0.8"/>
<text x="502.8" y="56.25" font-size="7.65">Naive B cells</text>
<rect x="492.7" y="219.40" width="5.4" height="5.2" fill="url(#p1)" stroke="#5a5a5a" stroke-width="0.8"/>
<text x="502.8" y="224.75" font-size="7.65">CD4 T cells</text>
<rect x="492.7" y="227.30" width="5.4" height="5.2" fill="#808080" stroke="#333" stroke-width="0.8"/>
<text x="502.8" y="232.65" font-size="7.65">CD8 T cells</text>
<rect x="492.7" y="235.80" width="5.4" height="5.2" fill="url(#p3)" stroke="#222" stroke-width="0.8"/>
<text x="502.8" y="241.15" font-size="7.65">Memory B cells</text>
<rect x="492.7" y="244.70" width="5.4" height="5.2" fill="url(#p4)" stroke="#5a5a5a" stroke-width="0.8"/>
<text x="502.8" y="250.05" font-size="7.65">Naive B cells</text>
</g>
</svg></body></html>
